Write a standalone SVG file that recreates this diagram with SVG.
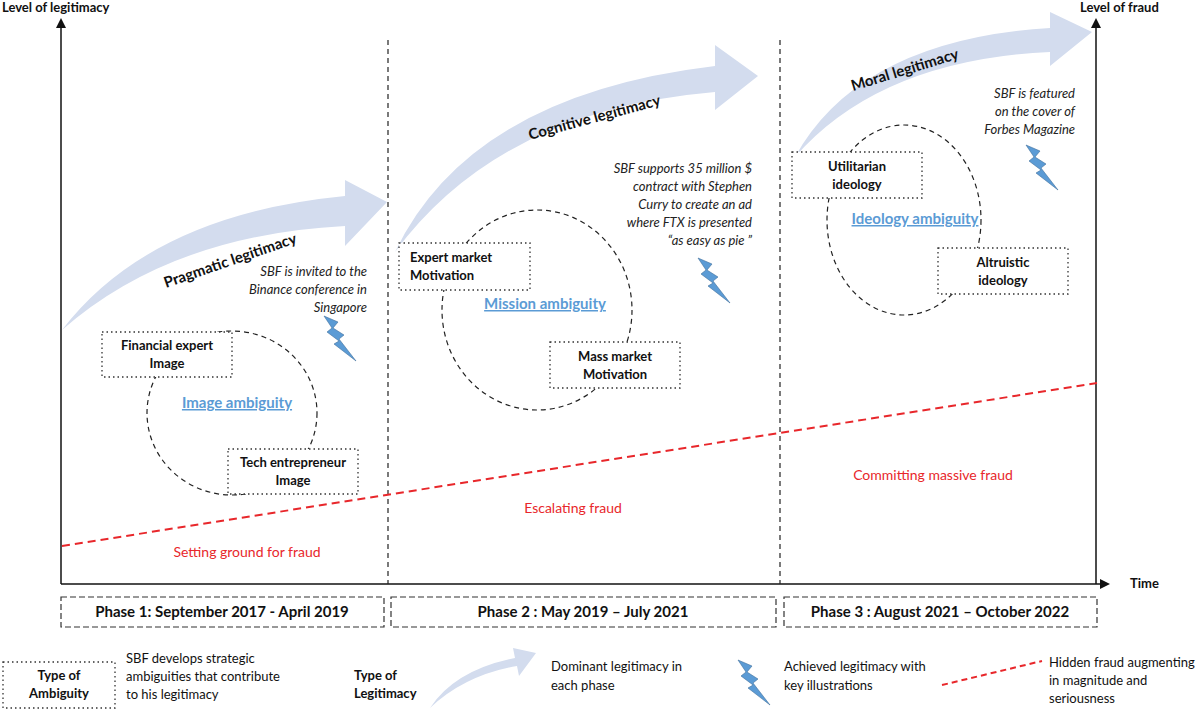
<svg xmlns="http://www.w3.org/2000/svg" width="1200" height="711" viewBox="0 0 1200 711">
<style>
text{font-family:Lato,"Open Sans","Liberation Sans",sans-serif;fill:#111}
.b{font-weight:bold;font-size:13px}
.n{font-size:13px}
.i{font-style:italic;font-size:13px;fill:#222}
.amb{font-size:15px;fill:#5b9bd5;text-decoration:underline;font-weight:bold}
.leg{font-size:15px;font-weight:bold;fill:#111}
.red{fill:#e8272b;font-size:14px}
.dot{fill:#fff;stroke:#333;stroke-width:1.3;stroke-dasharray:1.5 3}
.ell{fill:none;stroke:#222;stroke-width:1.2;stroke-dasharray:5 4}
.arr{fill:#d3dcee}
.ax{stroke:#111;stroke-width:1.5;fill:none}
.vd{stroke:#222;stroke-width:1.2;stroke-dasharray:5 4}
.ph{fill:#fff;stroke:#333;stroke-width:1.2;stroke-dasharray:6 3}
.bolt{fill:#5b9bd5;stroke:#41719c;stroke-width:0.6}
.al{font-weight:bold;font-size:15px}
</style>
<defs>
<marker id="ah" markerWidth="10" markerHeight="10" refX="8" refY="5" orient="auto" markerUnits="userSpaceOnUse"><path d="M0,0 L10,5 L0,10 Z" fill="#111"/></marker>
<polygon id="bolt" class="bolt" points="0,0 14,6 9,12 20,19 15,23 32,45 10,28 15,25 3,16 8,12"/>
</defs>
<rect width="1200" height="711" fill="#fff"/>
<g id="axes">
<line class="ax" x1="61" y1="584" x2="61" y2="20" marker-end="url(#ah)"/>
<line class="ax" x1="61" y1="584" x2="1108" y2="584" marker-end="url(#ah)"/>
<line class="ax" x1="1096" y1="584" x2="1096" y2="20" marker-end="url(#ah)"/>
<line class="vd" x1="388" y1="40" x2="388" y2="584"/>
<line class="vd" x1="780" y1="40" x2="780" y2="584"/>
<text x="2" y="12" class="b">Level of legitimacy</text>
<text x="1080" y="12" class="b">Level of fraud</text>
<text x="1130" y="588" class="b">Time</text>
</g>
<g id="connectors">
<line x1="62" y1="546" x2="1097" y2="383" stroke="#e8272b" stroke-width="2" stroke-dasharray="8 5"/>
</g>
<g id="legit-arrows">
<path class="arr" d="M62,330 Q150,215 345,196 L345,180 L387,202 L345,246 L345,226 Q170,235 62,330 Z"/>
<text class="al" transform="translate(166,288) rotate(-19)">Pragmatic legitimacy</text>
<path class="arr" d="M395,252 Q470,95 715,66 L715,45 L758,76 L715,110 L715,92 Q500,110 395,252 Z"/>
<text class="al" transform="translate(530,140) rotate(-15)">Cognitive legitimacy</text>
<path class="arr" d="M795,157 Q860,40 1050,28 L1050,12 L1092,32 L1050,66 L1050,52 Q880,60 795,157 Z"/>
<text class="al" transform="translate(853,91) rotate(-17)">Moral legitimacy</text>
</g>
<g id="phase1">
<ellipse class="ell" cx="232" cy="413" rx="85" ry="82"/>
<rect class="dot" x="102" y="332" width="130" height="45"/>
<text x="167" y="350" class="b" text-anchor="middle">Financial expert</text>
<text x="167" y="368" class="b" text-anchor="middle">Image</text>
<rect class="dot" x="228" y="449" width="130" height="45"/>
<text x="293" y="467" class="b" text-anchor="middle">Tech entrepreneur</text>
<text x="293" y="485" class="b" text-anchor="middle">Image</text>
<text x="237" y="408" class="amb" text-anchor="middle">Image ambiguity</text>
<text x="367" y="276" class="i" text-anchor="end">SBF is invited to the</text>
<text x="367" y="294" class="i" text-anchor="end">Binance conference in</text>
<text x="367" y="312" class="i" text-anchor="end">Singapore</text>
<use href="#bolt" x="324" y="316"/>
<text x="247" y="557" class="red" text-anchor="middle">Setting ground for fraud</text>
</g>
<g id="phase2">
<ellipse class="ell" cx="537" cy="310" rx="95" ry="100"/>
<rect class="dot" x="399" y="243" width="131" height="47"/>
<text x="410" y="262" class="b">Expert market</text>
<text x="410" y="280" class="b">Motivation</text>
<rect class="dot" x="550" y="342" width="130" height="46"/>
<text x="615" y="361" class="b" text-anchor="middle">Mass market</text>
<text x="615" y="379" class="b" text-anchor="middle">Motivation</text>
<text x="545" y="309" class="amb" text-anchor="middle">Mission ambiguity</text>
<text x="752" y="173" class="i" text-anchor="end">SBF supports 35 million $</text>
<text x="752" y="191" class="i" text-anchor="end">contract with Stephen</text>
<text x="752" y="209" class="i" text-anchor="end">Curry to create an ad</text>
<text x="752" y="227" class="i" text-anchor="end">where FTX is presented</text>
<text x="752" y="245" class="i" text-anchor="end">“as easy as pie ”</text>
<use href="#bolt" x="698" y="258"/>
<text x="573" y="513" class="red" text-anchor="middle">Escalating fraud</text>
</g>
<g id="phase3">
<ellipse class="ell" cx="904" cy="220" rx="77" ry="95"/>
<rect class="dot" x="792" y="152" width="130" height="46"/>
<text x="857" y="171" class="b" text-anchor="middle">Utilitarian</text>
<text x="857" y="189" class="b" text-anchor="middle">ideology</text>
<rect class="dot" x="938" y="248" width="130" height="46"/>
<text x="1003" y="267" class="b" text-anchor="middle">Altruistic</text>
<text x="1003" y="285" class="b" text-anchor="middle">ideology</text>
<text x="915" y="224" class="amb" text-anchor="middle">Ideology ambiguity</text>
<text x="1075" y="98" class="i" text-anchor="end">SBF is featured</text>
<text x="1075" y="116" class="i" text-anchor="end">on the cover of</text>
<text x="1075" y="134" class="i" text-anchor="end">Forbes Magazine</text>
<use href="#bolt" x="1026" y="145"/>
<text x="933" y="480" class="red" text-anchor="middle">Committing massive fraud</text>
</g>
<g id="phases">
<rect class="ph" x="61" y="597" width="323" height="30"/>
<text x="222" y="617" class="leg" font-size="14" text-anchor="middle">Phase 1: September 2017 - April 2019</text>
<rect class="ph" x="391" y="597" width="385" height="30"/>
<text x="583" y="617" class="leg" font-size="14" text-anchor="middle">Phase 2 : May 2019 – July 2021</text>
<rect class="ph" x="784" y="597" width="313" height="30"/>
<text x="940" y="617" class="leg" font-size="14" text-anchor="middle">Phase 3 : August 2021 – October 2022</text>
</g>
<g id="legend">
<rect class="dot" x="3" y="662" width="112" height="46"/>
<text x="59" y="680" class="b" font-size="12" text-anchor="middle">Type of</text>
<text x="59" y="698" class="b" font-size="12" text-anchor="middle">Ambiguity</text>
<text x="126" y="663" class="n">SBF develops strategic</text>
<text x="126" y="681" class="n">ambiguities that contribute</text>
<text x="126" y="699" class="n">to his legitimacy</text>
<text x="354" y="680" class="b" font-size="12">Type of</text>
<text x="354" y="698" class="b" font-size="12">Legitimacy</text>
<path class="arr" d="M430,708 Q455,670 515,658 L513,648 L536,653 L519,676 L517,666 Q465,675 430,708 Z"/>
<text x="551" y="671" class="n">Dominant legitimacy in</text>
<text x="551" y="690" class="n">each phase</text>
<use href="#bolt" x="738" y="660"/>
<text x="784" y="671" class="n">Achieved legitimacy with</text>
<text x="784" y="690" class="n">key illustrations</text>
<line x1="942" y1="685" x2="1042" y2="661" stroke="#e8272b" stroke-width="2" stroke-dasharray="6 4"/>
<text x="1049" y="667" class="n">Hidden fraud augmenting</text>
<text x="1049" y="685" class="n">in magnitude and</text>
<text x="1049" y="703" class="n">seriousness</text>
</g>
</svg>
